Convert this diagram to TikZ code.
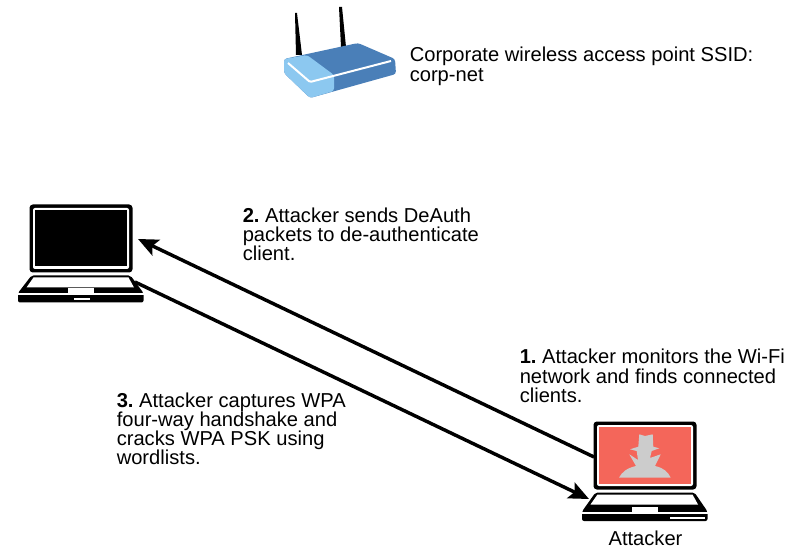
\documentclass[tikz,border=0pt]{standalone}
\usepackage{fontspec}
\setmainfont{Liberation Sans}
\usepackage{tikz}
\usetikzlibrary{arrows.meta,positioning,calc}

\definecolor{routerdark}{HTML}{4A7FB8}
\definecolor{routerlight}{HTML}{8CC8F0}
\definecolor{screenred}{HTML}{F4665A}
\definecolor{spygray}{HTML}{CCCCCC}

\tikzset{
  pics/laptop/.style 2 args={code={
    \fill[black,rounded corners=2.5pt] (0,0) rectangle (103,68);
    \fill[white,rounded corners=1.5pt] (3.5,3.5) rectangle (99.5,64.5);
    \fill[#1] (5.5,5.5) rectangle (97.5,62);
    \fill[black,rounded corners=1.5pt] (2,71) -- (101,71) -- (114,#2) -- (114,#2+9.5) -- (-11.5,#2+9.5) -- (-11.5,#2) -- cycle;
    \fill[white] (4,73) -- (99,73) -- (104.5,83) -- (-3,83) -- cycle;
    \fill[white] (-12,#2) rectangle (114.5,#2+2);
    \fill[white] (38.5,#2-4.5) rectangle (64.5,#2);
  }}
}

\begin{document}
\begin{tikzpicture}[
  x=0.75pt,y=-0.75pt,
  >={Stealth[length=15pt,width=13pt,inset=3pt]},
  note/.style={align=left,anchor=north west,inner sep=0pt,font=\fontsize{15.1}{14.4}\selectfont\frenchspacing},
  link/.style={->,line width=2.6pt}
]
  \useasboundingbox (0,0) rectangle (796,552);

  % access point
  \fill[black] (295,13) -- (297,13) -- (302,55) -- (296,55) -- cycle;
  \fill[black] (339,7) -- (342,7) -- (346,47) -- (341,47) -- cycle;
  \fill[routerdark,rounded corners=2pt] (284,59) -- (358,43) -- (395,59) -- (396,74) -- (310,98) -- (284,73) -- cycle;
  \fill[routerlight,rounded corners=2pt] (284,59) -- (307,55) -- (334,75) -- (334,91) -- (310,98) -- (284,73) -- cycle;
  \draw[white,line width=1.5pt,rounded corners=1pt] (288,63) -- (310,82) -- (391,61);
  \node[note] (apname) at (409.5,47) {Corporate wireless access point SSID:\\corp-net};

  % laptops
  \pic at (29.5,204.5) {laptop={black}{88.5}};
  \fill[white] (73.5,297.7) rectangle (89.5,300);
  \pic at (593.5,421.5) {laptop={screenred}{90}};
  \fill[white] (670,517) rectangle (705,519);
  \fill[spygray] (639.3,434.3) -- (645,436) -- (652.7,434.3) -- (653.3,446.7) -- (659.3,448.3)
    -- (651.7,451) -- (650,458) -- (660.7,454.3) -- (655,466)
    .. controls (664,468) and (668,472) .. (670.7,477.7)
    -- (619,477.7) .. controls (622,472) and (627,468) .. (636,466)
    -- (629.3,454.3) -- (638,460) -- (636.7,451)
    -- (630,449.3) -- (638.3,446.7) -- cycle;
  \node[inner sep=0pt,font=\fontsize{15.1}{14.4}\selectfont] (attacker) at (645.5,538) {Attacker};

  \coordinate (victimin) at (138,239);
  \coordinate (victimout) at (135,282);
  \coordinate (attackerout) at (594,457);
  \coordinate (attackerin) at (589,499);
  \draw[link] (attackerout)--(victimin);
  \draw[link] (victimout)--(attackerin);

  \node[note] (stepone) at (519.5,349) {\textbf{1.} Attacker monitors the Wi-Fi\\network and finds connected\\clients.};
  \node[note] (steptwo) at (242.5,207.5) {\textbf{2.} Attacker sends DeAuth\\packets to de-authenticate\\client.};
  \node[note] (stepthree) at (116.5,392.5) {\textbf{3.} Attacker captures WPA\\four-way handshake and\\cracks WPA PSK using\\wordlists.};
\end{tikzpicture}
\end{document}
